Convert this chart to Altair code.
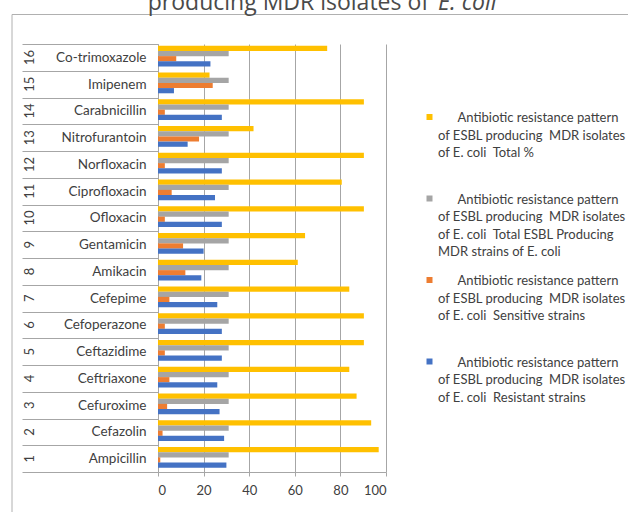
import json
import altair as alt
import pandas as pd

# ---------------- data ----------------
numbers = [1, 2, 3, 4, 5, 6, 7, 8, 9, 10, 11, 12, 13, 14, 15, 16]
antibiotics = ["Ampicillin", "Cefazolin", "Cefuroxime", "Ceftriaxone", "Ceftazidime",
               "Cefoperazone", "Cefepime", "Amikacin", "Gentamicin", "Ofloxacin",
               "Ciprofloxacin", "Norfloxacin", "Nitrofurantoin", "Carabnicillin",
               "Imipenem", "Co-trimoxazole"]
total_pct = [96.8, 93.5, 87.1, 83.9, 90.3, 90.3, 83.9, 61.3, 64.5, 90.3,
             80.6, 90.3, 41.9, 90.3, 22.6, 74.2]
total_esbl = [31, 31, 31, 31, 31, 31, 31, 31, 31, 31, 31, 31, 31, 31, 31, 31]
sensitive = [1, 2, 4, 5, 3, 3, 5, 12, 11, 3, 6, 3, 18, 3, 24, 8]
resistant = [30, 29, 27, 26, 28, 28, 26, 19, 20, 28, 25, 28, 13, 28, 7, 23]

series_keys = ["Total %", "Total ESBL Producing MDR strains of E. coli",
               "Sensitive strains", "Resistant strains"]
series_colors = ["#FFC000", "#A5A5A5", "#ED7D31", "#4472C4"]

NB = "\u00a0"
ZW = "\u200b"  # keeps the leading indent from being trimmed
head = [ZW + NB * 6 + "Antibiotic resistance pattern", "of ESBL producing" + NB + " MDR isolates"]
legend_lines = [
    head + ["of E. coli" + NB + " Total %", ZW],
    head + ["of E. coli" + NB + " Total ESBL Producing", "MDR strains of E. coli"],
    head + ["of E. coli" + NB + " Sensitive strains", ZW],
    head + ["of E. coli" + NB + " Resistant strains", ZW],
]
title_line1 = "Antibiotic resistance pattern of ESBL"
title_line2 = "producing MDR isolates of"
title_line2_italic = "E. coli"

# ---------------- tables ----------------
rows = []
for i, name in enumerate(antibiotics):
    for key, vals in zip(series_keys, [total_pct, total_esbl, sensitive, resistant]):
        rows.append({"antibiotic": name, "num": numbers[i], "series": key, "value": vals[i]})
df = pd.DataFrame(rows)
df_names = pd.DataFrame({"antibiotic": antibiotics, "num": numbers})
order_top = antibiotics[::-1]

label_expr = ""
for key, lines in zip(series_keys, legend_lines):
    label_expr += f"datum.label === {json.dumps(key)} ? {json.dumps(lines)} : "
label_expr += "datum.label"

GRAY = "#a6a6a6"
TXT = "#404040"
FONT = "Lato"

y_enc = alt.Y(
    "antibiotic:N", sort=order_top, title=None,
    scale=alt.Scale(paddingInner=0, paddingOuter=0),
    axis=alt.Axis(tickBand="extent", tickSize=136, tickColor=GRAY, domainColor=GRAY,
                  labelPadding=-124, labelFont=FONT, labelFontSize=13.5,
                  labelColor=TXT, grid=False, labelLimit=200),
)

bars = alt.Chart(df).mark_bar().encode(
    x=alt.X("value:Q", title=None, scale=alt.Scale(domain=[0, 100], nice=False),
            axis=alt.Axis(values=[0, 20, 40, 60, 80, 100], grid=True, gridColor=GRAY,
                          domainColor=GRAY, tickColor=GRAY, tickSize=4, labelPadding=8,
                          labelFont=FONT, labelFontSize=13, labelColor=TXT)),
    y=y_enc,
    yOffset=alt.YOffset("series:N", sort=series_keys,
                        scale=alt.Scale(paddingInner=0, paddingOuter=0.57, align=0.29)),
    color=alt.Color("series:N", sort=series_keys,
                    scale=alt.Scale(domain=series_keys, range=series_colors),
                    legend=alt.Legend(
                        title=None, orient="none", legendX=265, legendY=61.7,
                        padding=0, symbolType="M-1,0.6H1V2.6H-1Z", symbolSize=36,
                        symbolStrokeWidth=0, labelOffset=2, labelBaseline="top",
                        labelExpr=label_expr, labelLimit=400, labelFont=FONT,
                        labelFontSize=13, labelColor=TXT, rowPadding=9.5)),
)

nums = alt.Chart(df_names).mark_text(angle=270, font=FONT, fontSize=13, color=TXT,
                                     align="center", baseline="middle").encode(
    y=y_enc, x=alt.value(-128), text="num:N")

frame = alt.Chart(pd.DataFrame({"f": [0]})).mark_rect(
    fillOpacity=0, stroke="#b0b0b0", strokeWidth=1).encode(
    x=alt.value(-146), x2=alt.value(480), y=alt.value(-29.5), y2=alt.value(480))

tdata = pd.DataFrame({"t": [0]})
tstyle = dict(font="Open Sans", fontSize=23, color="#4a4a4a", baseline="alphabetic")
title1 = alt.Chart(tdata).mark_text(align="center", **tstyle).encode(
    x=alt.value(163), y=alt.value(-63), text=alt.value(title_line1))
title2 = alt.Chart(tdata).mark_text(align="right", **tstyle).encode(
    x=alt.value(271), y=alt.value(-34.5), text=alt.value(title_line2))
title3 = alt.Chart(tdata).mark_text(align="left", fontStyle="italic", **tstyle).encode(
    x=alt.value(280), y=alt.value(-34.5), text=alt.value(title_line2_italic))

chart = alt.layer(frame, bars, nums, title1, title2, title3).properties(
    width=228, height=428,
    autosize=alt.AutoSizeParams(type="none"),
    padding={"left": 158, "top": 44, "right": 242, "bottom": 40},
).configure(style={"guide-label": {"lineHeight": 17.5}}).configure_view(strokeWidth=0)

chart.save("out.html", embed_options={"renderer": "svg", "actions": False})
